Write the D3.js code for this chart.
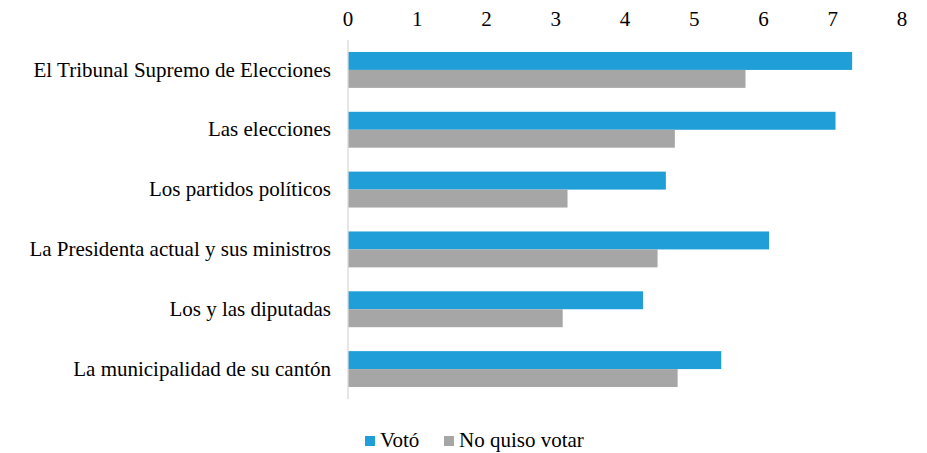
<!DOCTYPE html>
<html><head><meta charset="utf-8">
<script src="https://cdn.jsdelivr.net/npm/d3@7"></script>
<style>body{margin:0;background:#fff}</style>
</head><body>
<svg id="c" width="927" height="453"></svg>
<script>
const categories = ["El Tribunal Supremo de Elecciones","Las elecciones","Los partidos políticos","La Presidenta actual y sus ministros","Los y las diputadas","La municipalidad de su cantón"];
const seriesNames = ["Votó","No quiso votar"];
const voto = [7.28,7.04,4.59,6.08,4.26,5.39];
const noQuiso = [5.74,4.72,3.17,4.47,3.10,4.76];
const tickValues = [0,1,2,3,4,5,6,7,8];
const colors = ["#1f9ed8","#a6a6a6"];
const FONT = '"Tinos", "Liberation Serif", "Times New Roman", serif';
const FS = 21;

const svg = d3.select("#c");
const x = d3.scaleLinear().domain([0,8]).range([348,902]);
const y = d3.scaleBand().domain(categories).range([40,399]).paddingInner(0.4).paddingOuter(0.2);
const ys = d3.scaleBand().domain(seriesNames).range([0,y.bandwidth()]);

const data = categories.map((c,i)=>({c, vals:[voto[i],noQuiso[i]]}));

const g = svg.append("g");
data.forEach(d=>{
  d.vals.forEach((v,j)=>{
    g.append("rect").attr("x",x(0)).attr("y",y(d.c)+ys(seriesNames[j]))
      .attr("width",x(v)-x(0)).attr("height",ys.bandwidth()).attr("fill",colors[j]);
  });
});

svg.append("line").attr("x1",x(0)).attr("x2",x(0)).attr("y1",40).attr("y2",399)
  .attr("stroke","#d9d9d9").attr("stroke-width",1.3);

// top tick labels
x.ticks && tickValues.forEach(t=>{
  svg.append("text").attr("x",x(t)).attr("y",26).attr("text-anchor","middle")
    .attr("font-size",FS).style("font-family",FONT).attr("fill","#000").text(d3.format("d")(t));
});

// category labels
categories.forEach(c=>{
  svg.append("text").attr("x",331).attr("y",y(c)+y.bandwidth()/2).attr("dy","0.32em")
    .attr("text-anchor","end").attr("font-size",FS).style("font-family",FONT).attr("fill","#000").text(c);
});

// legend
const lx = [365,444];
seriesNames.forEach((n,i)=>{
  svg.append("rect").attr("x",lx[i]).attr("y",436).attr("width",10).attr("height",10).attr("fill",colors[i]);
  svg.append("text").attr("x",lx[i]+15).attr("y",447).attr("font-size",FS).style("font-family",FONT).attr("fill","#000").text(n);
});
</script>
</body></html>
